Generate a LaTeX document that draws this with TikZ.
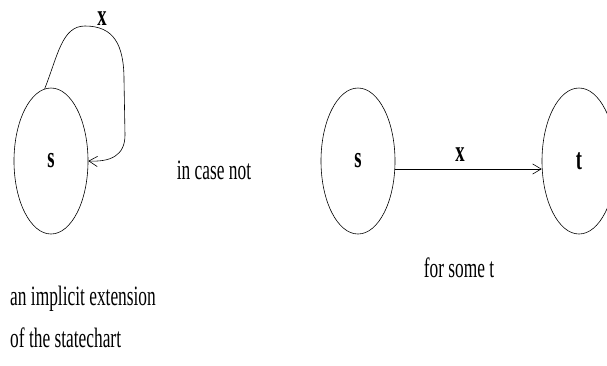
\documentclass[tikz,border=0pt]{standalone}
\usepackage{fontspec}
\setmainfont[FakeStretch=0.62]{Liberation Serif}
\usepackage{tikz}
\usetikzlibrary{arrows.meta,positioning,shapes.geometric}
\tikzset{
  state/.style={
    draw, ellipse, line width=.6pt, inner sep=0pt,
    minimum width=74pt, minimum height=146pt,
    font=\fontsize{30}{30}\selectfont\bfseries
  },
  lbl/.style={font=\fontsize{30}{30}\selectfont\bfseries, inner sep=0pt},
  txt/.style={font=\fontsize{28}{28}\selectfont, inner sep=0pt},
  arr/.style={-{Straight Barb[length=3mm,width=3.6mm]},line width=.6pt}
}
\begin{document}
\begin{tikzpicture}[x=1pt,y=-1pt]
  \useasboundingbox (0,0) rectangle (607,365);
  % left: self loop
  \node[state] (loopS) at (51,161) {s};
  \draw[arr] (loopS.95) .. controls (58,55) and (62,26) .. (85,26)
    .. controls (114,26) and (124,45) .. (124,80)
    -- (125,135) .. controls (125,156) and (110,162) .. (loopS.east);
  \node[lbl,anchor=base] (loopX) at (102,25) {x};
  \node[txt,anchor=base] (caseNot) at (214,179) {in case not};
  \node[txt,anchor=base west] (implicit) at (10,305) {an implicit extension};
  \node[txt,below=16pt of implicit.south west,anchor=north west] (statechart) {of the statechart};
  % right: s --x--> t
  \node[state] (s) at (358,161) {s};
  \node[state] (t) at (579,161) {t};
  \draw[arr] (s.east |- 0,169) coordinate (sOut) -- (t.west |- sOut);
  \node[lbl,anchor=base] (edgeX) at (460,161) {x};
  \node[txt,anchor=base] (someT) at (459,277) {for some t};
\end{tikzpicture}
\end{document}
